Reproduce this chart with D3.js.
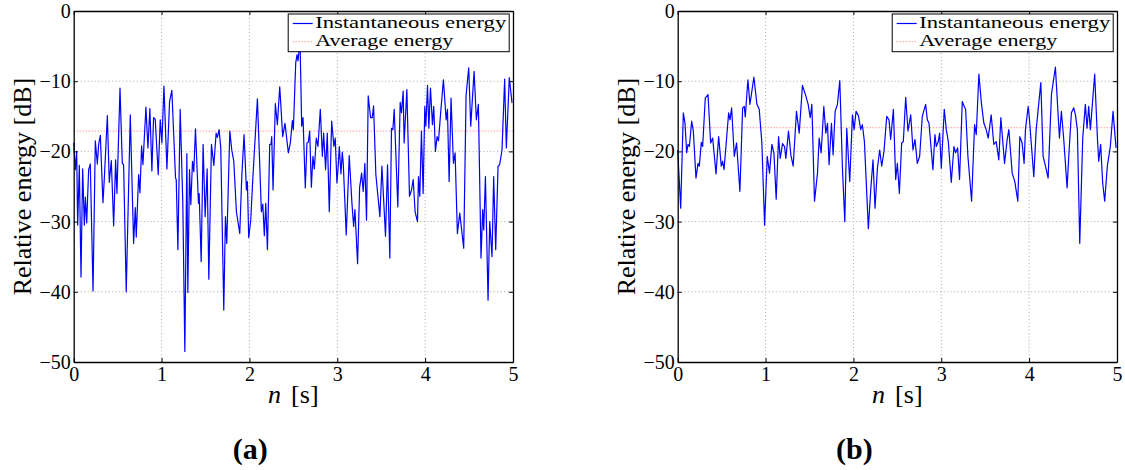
<!DOCTYPE html>
<html><head><meta charset="utf-8">
<script src="https://cdn.jsdelivr.net/npm/d3@7"></script>
<style>
body{margin:0;background:#fff}
svg{display:block}
svg text{font-family:"Liberation Serif","Tinos","DejaVu Serif","Noto Serif",serif;fill:#000}
</style>
</head><body>
<svg id="c" width="1125" height="470"></svg>
<script>
// ---------- data ----------
const xTicks = [0, 1, 2, 3, 4, 5];
const yTicks = [-50, -40, -30, -20, -10, 0];
const legendLabels = ["Instantaneous energy", "Average energy"];
const xLabelVar = "n";
const xLabelUnit = "[s]";
const yLabel = "Relative energy [dB]";
const captions = ["(a)", "(b)"];

const avgA = -17.1;
const avgB = -16.6;

const timesA = [0,0.019,0.034,0.045,0.064,0.083,0.102,0.121,0.133,0.148,
0.170,0.189,0.220,0.246,0.269,0.284,0.303,0.333,0.348,0.383,
0.405,0.428,0.455,0.477,0.492,0.527,0.553,0.568,0.598,0.644,
0.682,0.701,0.712,0.739,0.754,0.773,0.788,0.822,0.845,0.867,
0.890,0.909,0.928,0.962,0.985,1.004,1.027,1.061,1.091,1.117,
1.159,1.167,1.186,1.212,1.242,1.265,1.288,1.299,1.318,1.333,
1.352,1.367,1.386,1.420,1.428,1.451,1.473,1.496,1.519,1.538,
1.568,1.595,1.621,1.636,1.655,1.674,1.708,1.727,1.742,1.777,
1.799,1.822,1.852,1.890,1.913,1.939,1.966,1.977,1.992,2.015,
2.038,2.091,2.136,2.152,2.170,2.186,2.205,2.231,2.246,2.254,
2.269,2.295,2.318,2.345,2.379,2.405,2.443,2.466,2.489,2.500,
2.527,2.542,2.553,2.576,2.595,2.610,2.636,2.655,2.670,2.686,
2.705,2.723,2.739,2.761,2.780,2.807,2.830,2.845,2.867,2.886,
2.909,2.936,2.962,2.977,2.996,3.008,3.023,3.042,3.057,3.068,
3.102,3.136,3.167,3.186,3.201,3.231,3.254,3.277,3.295,3.314,
3.333,3.352,3.379,3.398,3.413,3.439,3.485,3.508,3.549,3.572,
3.598,3.617,3.633,3.648,3.689,3.716,3.731,3.750,3.761,3.792,
3.822,3.845,3.864,3.886,3.913,3.924,3.939,3.958,3.977,3.996,
4.008,4.027,4.042,4.061,4.083,4.098,4.117,4.136,4.152,4.178,
4.208,4.239,4.254,4.273,4.295,4.322,4.341,4.367,4.394,4.439,
4.466,4.496,4.519,4.557,4.583,4.606,4.636,4.655,4.667,4.686,
4.716,4.735,4.761,4.780,4.803,4.830,4.848,4.875,4.905,4.924,
4.958,4.989];

const energyA = [-18.8,-22.6,-20.0,-30.5,-22.0,-37.9,-22.5,-30.5,-26.5,-30.2,
-22.6,-21.8,-39.9,-18.5,-21.8,-19.0,-17.7,-27.3,-24.0,-14.9,
-24.4,-21.3,-30.6,-21.2,-26.0,-11.0,-21.7,-21.9,-40.0,-14.8,
-33.1,-28.0,-32.2,-23.3,-25.9,-19.2,-21.9,-13.7,-19.5,-13.9,
-22.8,-15.2,-15.4,-23.3,-15.5,-18.8,-10.7,-22.5,-12.9,-11.3,
-23.8,-24.0,-34.0,-14.0,-27.4,-48.5,-20.3,-40.1,-22.6,-27.6,
-21.4,-22.9,-16.8,-27.4,-26.0,-35.7,-19.0,-29.3,-22.5,-38.2,
-19.0,-22.0,-17.4,-18.0,-16.9,-19.5,-42.6,-29.3,-33.1,-17.1,
-19.8,-21.4,-28.6,-31.7,-23.6,-17.6,-25.5,-24.3,-32.3,-29.8,
-24.0,-12.5,-28.6,-27.5,-32.0,-27.4,-34.0,-19.0,-19.0,-17.9,
-25.5,-13.2,-16.2,-10.8,-17.9,-16.0,-20.2,-18.8,-15.6,-16.9,
-7.4,-6.2,-7.1,-4.3,-16.4,-15.2,-25.2,-18.8,-18.7,-17.1,
-25.1,-20.7,-22.5,-18.1,-19.3,-14.0,-20.7,-17.4,-22.6,-17.4,
-28.6,-15.7,-19.3,-18.1,-24.5,-22.6,-19.3,-23.2,-20.1,-21.7,
-31.9,-20.6,-27.4,-30.7,-28.3,-36.0,-25.2,-23.1,-25.7,-21.7,
-29.8,-12.1,-15.2,-15.2,-13.5,-23.3,-29.3,-22.1,-32.1,-21.9,
-35.2,-16.7,-16.9,-14.0,-27.9,-13.0,-14.5,-11.4,-18.8,-11.2,
-26.4,-25.5,-24.0,-28.6,-30.0,-23.6,-26.4,-17.1,-26.0,-13.6,
-16.4,-10.6,-16.7,-11.0,-16.2,-13.6,-20.0,-17.9,-18.5,-14.3,
-9.8,-15.5,-14.0,-24.3,-12.4,-21.7,-20.2,-31.7,-28.8,-33.8,
-12.0,-8.1,-16.4,-8.6,-15.5,-13.3,-35.2,-28.3,-31.2,-23.6,
-41.2,-30.0,-35.0,-23.6,-34.0,-22.1,-21.9,-19.8,-9.7,-19.5,
-9.5,-13.1];

const timesB = [0,0.034,0.064,0.083,0.102,0.117,0.133,0.159,0.178,0.208,
0.231,0.246,0.269,0.284,0.314,0.345,0.375,0.398,0.436,0.466,
0.496,0.511,0.527,0.549,0.580,0.595,0.614,0.644,0.670,0.708,
0.739,0.758,0.769,0.799,0.822,0.841,0.867,0.902,0.928,0.958,
0.989,1.019,1.045,1.072,1.095,1.121,1.148,1.167,1.193,1.216,
1.231,1.261,1.288,1.314,1.352,1.383,1.420,1.458,1.485,1.508,
1.527,1.557,1.591,1.610,1.633,1.663,1.686,1.705,1.723,1.750,
1.769,1.792,1.818,1.845,1.875,1.902,1.924,1.958,1.989,2.008,
2.030,2.057,2.083,2.102,2.125,2.170,2.197,2.223,2.246,2.273,
2.299,2.322,2.348,2.379,2.405,2.424,2.455,2.481,2.500,2.523,
2.549,2.568,2.595,2.621,2.652,2.678,2.701,2.727,2.754,2.784,
2.822,2.841,2.860,2.886,2.905,2.928,2.943,2.966,2.981,3.000,
3.034,3.057,3.080,3.114,3.144,3.163,3.186,3.208,3.239,3.261,
3.277,3.303,3.345,3.379,3.398,3.428,3.458,3.485,3.511,3.534,
3.568,3.598,3.625,3.655,3.678,3.720,3.750,3.769,3.807,3.837,
3.871,3.894,3.920,3.943,3.958,3.989,4.004,4.053,4.080,4.133,
4.159,4.186,4.216,4.254,4.299,4.345,4.367,4.394,4.432,4.451,
4.481,4.508,4.527,4.549,4.576,4.610,4.640,4.659,4.678,4.697,
4.746,4.777,4.792,4.814,4.837,4.860,4.890,4.924,4.955,4.989];

const energyB = [-19.8,-28.1,-14.5,-16.0,-20.2,-19.0,-19.3,-15.7,-17.1,-23.8,
-21.7,-22.1,-18.7,-19.3,-12.4,-11.9,-18.8,-18.1,-23.2,-17.9,
-22.1,-21.4,-22.6,-19.3,-14.5,-15.5,-13.8,-20.7,-18.8,-25.7,
-13.8,-13.6,-15.1,-9.8,-13.3,-11.7,-9.4,-13.3,-14.0,-18.8,
-30.5,-20.7,-23.1,-19.0,-20.2,-26.8,-17.9,-21.0,-18.9,-19.3,
-21.0,-17.1,-20.5,-22.1,-14.3,-17.4,-10.6,-12.1,-13.3,-15.2,
-13.3,-27.1,-23.1,-18.1,-20.2,-13.6,-17.4,-16.0,-21.9,-16.0,
-20.5,-14.3,-13.3,-9.9,-22.4,-30.0,-16.7,-24.3,-14.8,-16.9,
-14.3,-14.9,-16.9,-16.2,-18.6,-31.0,-25.5,-21.2,-28.1,-22.4,
-19.8,-22.1,-20.0,-15.0,-15.5,-18.3,-14.0,-24.0,-21.7,-26.0,
-18.8,-18.6,-12.3,-17.1,-14.8,-19.8,-18.3,-21.7,-20.7,-15.0,
-13.3,-15.5,-16.0,-19.8,-22.6,-17.6,-19.3,-18.6,-17.4,-22.4,
-14.0,-16.9,-18.6,-24.4,-19.3,-20.2,-19.5,-24.0,-12.9,-13.6,
-14.0,-20.7,-27.1,-16.2,-17.6,-9.0,-13.3,-16.0,-16.9,-18.1,
-14.8,-19.0,-18.6,-21.2,-15.2,-21.7,-18.3,-16.9,-23.1,-24.3,
-27.1,-17.9,-18.8,-21.7,-16.9,-13.6,-15.5,-23.6,-16.9,-10.2,
-20.7,-22.1,-23.8,-11.9,-8.0,-18.1,-14.3,-18.3,-25.2,-20.7,
-14.5,-13.8,-14.8,-16.9,-33.1,-18.1,-13.3,-16.7,-13.6,-16.9,
-9.0,-18.1,-21.4,-19.0,-24.5,-27.1,-22.1,-19.3,-14.3,-19.5];

// ---------- layout ----------
const FONT = '"Liberation Serif","Tinos","DejaVu Serif","Noto Serif",serif';
const oy = 11, plotW = 439.3, plotH = 351;
const panels = [
  {ox: 73.7, times: timesA, vals: energyA, avg: avgA, cap: captions[0]},
  {ox: 677.7, times: timesB, vals: energyB, avg: avgB, cap: captions[1]}
];
const fmt = d => d < 0 ? "\u2212" + Math.abs(d) : String(d);
const svg = d3.select("#c").attr("font-family", FONT);

panels.forEach(p => {
  const g = svg.append("g").attr("transform", `translate(${p.ox},${oy})`).attr("font-family", FONT);
  const x = d3.scaleLinear().domain([0, 5]).range([0, plotW]);
  const y = d3.scaleLinear().domain([-50, 0]).range([plotH, 0]);

  // grid
  const grid = g.append("g").attr("stroke", "#a8a8a8").attr("stroke-width", 1).attr("stroke-dasharray", "1,2.5");
  grid.selectAll(".gx").data(xTicks.filter(t => t > 0 && t < 5)).join("line")
    .attr("x1", d => x(d)).attr("x2", d => x(d)).attr("y1", 0).attr("y2", plotH);
  grid.selectAll(".gy").data(yTicks.filter(t => t > -50 && t < 0)).join("line")
    .attr("x1", 0).attr("x2", plotW).attr("y1", d => y(d)).attr("y2", d => y(d));

  // average line
  g.append("line").attr("x1", x(0)).attr("x2", x(5)).attr("y1", y(p.avg)).attr("y2", y(p.avg))
    .attr("stroke", "#ff8a8a").attr("stroke-width", 1.2).attr("stroke-dasharray", "1,2");

  // instantaneous line
  const idx = d3.range(Math.min(p.times.length, p.vals.length));
  const line = d3.line().x(i => x(p.times[i])).y(i => y(p.vals[i]));
  g.append("path").datum(idx).attr("d", line).attr("fill", "none")
    .attr("stroke", "#0000ff").attr("stroke-width", 1.2).attr("stroke-linejoin", "round");

  // axes
  const styleAx = sel => {
    sel.attr("font-family", FONT).attr("font-size", 20);
    sel.selectAll("path.domain").attr("stroke", "#000").attr("stroke-width", 1.3);
    sel.selectAll(".tick line").attr("stroke", "#000").attr("stroke-width", 1);
    sel.selectAll("text").attr("fill", "#000");
  };
  g.append("g").attr("transform", `translate(0,${plotH})`)
    .call(d3.axisBottom(x).tickValues(xTicks).tickFormat(fmt).tickSizeInner(-4).tickSizeOuter(0).tickPadding(5)).call(styleAx);
  g.append("g")
    .call(d3.axisLeft(y).tickValues(yTicks).tickFormat(fmt).tickSizeInner(-4).tickSizeOuter(0).tickPadding(3)).call(styleAx);
  g.append("g")
    .call(d3.axisTop(x).tickValues(xTicks).tickFormat("").tickSizeInner(-4).tickSizeOuter(0)).call(styleAx);
  g.append("g").attr("transform", `translate(${plotW},0)`)
    .call(d3.axisRight(y).tickValues(yTicks).tickFormat("").tickSizeInner(-4).tickSizeOuter(0)).call(styleAx);

  // legend
  const lg = g.append("g").attr("transform", "translate(214.5,3)");
  lg.append("rect").attr("x", 0).attr("y", 0).attr("width", 221).attr("height", 37.7)
    .attr("fill", "#fff").attr("stroke", "#000").attr("stroke-width", 1);
  lg.append("line").attr("x1", 4.5).attr("x2", 24.5).attr("y1", 9.5).attr("y2", 9.5)
    .attr("stroke", "#0000ff").attr("stroke-width", 1.2);
  lg.append("line").attr("x1", 4.5).attr("x2", 24.5).attr("y1", 27.7).attr("y2", 27.7)
    .attr("stroke", "#ff8a8a").attr("stroke-width", 1.2).attr("stroke-dasharray", "1,2");
  lg.append("text").attr("x", 27).attr("y", 14.2).attr("font-size", 16)
    .attr("textLength", 191).attr("lengthAdjust", "spacingAndGlyphs").text(legendLabels[0]);
  lg.append("text").attr("x", 27).attr("y", 31.9).attr("font-size", 16)
    .attr("textLength", 138).attr("lengthAdjust", "spacingAndGlyphs").text(legendLabels[1]);

  // y label
  g.append("text").attr("transform", `translate(${31 - 73.7},${plotH / 2}) rotate(-90)`)
    .attr("text-anchor", "middle").attr("font-size", 26).text(yLabel);

  // x label
  const xl = g.append("text").attr("x", plotW / 2).attr("y", 392.3)
    .attr("text-anchor", "middle").attr("font-size", 26);
  xl.append("tspan").attr("font-style", "italic").text(xLabelVar);
  xl.append("tspan").attr("dx", 10).text(xLabelUnit);

  // caption
  g.append("text").attr("x", plotW / 2 - 43).attr("y", 459 - oy)
    .attr("text-anchor", "middle").attr("font-size", 30).attr("font-weight", "bold").text(p.cap);
});
</script>
</body></html>
